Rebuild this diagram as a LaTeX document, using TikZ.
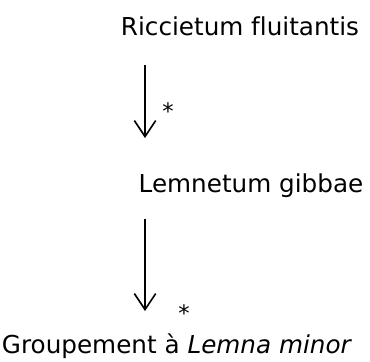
\documentclass[tikz,border=0pt]{standalone}
\usepackage{fontspec}
\setmainfont[Ligatures=NoCommon]{DejaVu Sans}
\usetikzlibrary{arrows.meta}
\tikzset{
  lbl/.style={inner sep=0pt, anchor=base, font=\fontsize{18.5pt}{22pt}\selectfont},
  star/.style={inner sep=0pt, anchor=north, font=\fontsize{17pt}{19pt}\selectfont},
  flow/.style={line width=1.2pt, -{Straight Barb[length=12pt,width=16pt,line width=1.2pt]}}
}
\begin{document}
\begin{tikzpicture}[x=0.75pt,y=-0.75pt]
\useasboundingbox (0,0) rectangle (370,361);
\node[lbl] (r) at (240,35) {Riccietum fluitantis};
\node[lbl] (l) at (251,192) {Lemnetum gibbae};
\node[lbl] (g) at (177,353) {Groupement à \textit{Lemna minor}};
\coordinate (a1s) at (145,65);
\coordinate (a1e) at (145,138);
\coordinate (a2s) at (145,219);
\coordinate (a2e) at (145,311);
\draw[flow] (a1s) -- (a1e);
\draw[flow] (a2s) -- (a2e);
\node[star] (s1) at (168,102) {*};
\node[star] (s2) at (184,304) {*};
\end{tikzpicture}
\end{document}
